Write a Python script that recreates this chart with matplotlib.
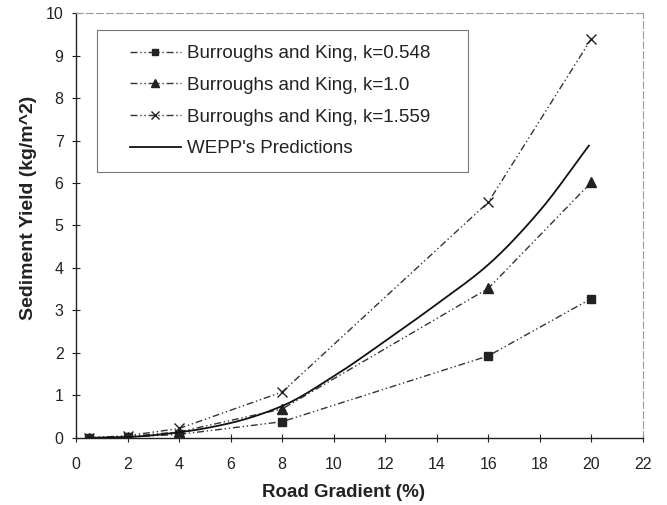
import matplotlib
matplotlib.use("Agg")
import matplotlib.pyplot as plt
from matplotlib.patches import Rectangle
import numpy as np

plt.rcParams['font.family'] = ['Liberation Sans', 'DejaVu Sans']

# Data
gradient = [0.5, 2, 4, 8, 16, 20]
bk_0548 = [0.0, 0.02, 0.08, 0.38, 1.93, 3.28]
bk_10 = [0.0, 0.03, 0.14, 0.68, 3.52, 6.02]
bk_1559 = [0.0, 0.05, 0.22, 1.08, 5.55, 9.40]

wepp_x = [0.5, 2, 4, 6, 8, 10, 12, 14, 16, 18, 19.9]
wepp_y = [0.0, 0.02, 0.13, 0.35, 0.75, 1.45, 2.28, 3.15, 4.08, 5.35, 6.88]

labels = ["Burroughs and King, k=0.548", "Burroughs and King, k=1.0",
          "Burroughs and King, k=1.559", "WEPP's Predictions"]
xticks = list(range(0, 23, 2))
yticks = list(range(0, 11))

fig = plt.figure(figsize=(6.67, 5.05), dpi=100)
ax = fig.add_axes([0.114, 0.133, 0.850, 0.841])

ls = (0, (5, 2, 1, 2, 1, 2))
col = '#333333'
ax.plot(gradient, bk_0548, linestyle=ls, color=col, lw=1.0, marker='s', ms=6,
        mfc='#222222', mec='#222222', label=labels[0])
ax.plot(gradient, bk_10, linestyle=ls, color=col, lw=1.0, marker='^', ms=6.5,
        mfc='#222222', mec='#222222', label=labels[1])
ax.plot(gradient, bk_1559, linestyle=ls, color=col, lw=1.0, marker='x', ms=7,
        mew=1.0, mec='#222222', label=labels[2])

xs = np.array(wepp_x); ys = np.array(wepp_y)
def pchip(x, y, xn):
    h = np.diff(x); d = np.diff(y) / h
    m = np.zeros_like(y)
    for k in range(1, len(x) - 1):
        if d[k-1] * d[k] > 0:
            w1 = 2*h[k] + h[k-1]; w2 = h[k] + 2*h[k-1]
            m[k] = (w1 + w2) / (w1/d[k-1] + w2/d[k])
    m[0] = d[0]; m[-1] = d[-1]
    out = np.empty_like(xn)
    for i, xv in enumerate(xn):
        k = min(np.searchsorted(x, xv) - 1, len(x) - 2); k = max(k, 0)
        t = (xv - x[k]) / h[k]
        h00 = 2*t**3 - 3*t**2 + 1; h10 = t**3 - 2*t**2 + t
        h01 = -2*t**3 + 3*t**2; h11 = t**3 - t**2
        out[i] = h00*y[k] + h10*h[k]*m[k] + h01*y[k+1] + h11*h[k]*m[k+1]
    return out
xn = np.linspace(xs[0], xs[-1], 300)
ax.plot(xn, pchip(xs, ys, xn), color='#111111', lw=1.3, label=labels[3])

ax.set_xlim(0, 22)
ax.set_ylim(0, 10)
ax.set_xticks(xticks)
ax.set_yticks(yticks)
ax.tick_params(direction='inout', length=6, width=0.8, labelsize=11.5,
               colors='#222222')
ax.tick_params(axis='x', pad=11)
ax.tick_params(axis='y', pad=6)
for s in ['left', 'bottom']:
    ax.spines[s].set_color('#222222')
    ax.spines[s].set_linewidth(1.0)
for s in ['top', 'right']:
    ax.spines[s].set_color('#9a9a9a')
    ax.spines[s].set_linewidth(0.8)
    ax.spines[s].set_linestyle((0, (6, 3)))

ax.set_xlabel("Road Gradient (%)", fontsize=13.5, fontweight='bold',
              color='#222222')
ax.set_ylabel("Sediment Yield (kg/m^2)", fontsize=14, fontweight='bold',
              color='#222222')
ax.xaxis.set_label_coords(0.471, -0.108)
ax.yaxis.set_label_coords(-0.068, 0.541)

# legend frame
ax.add_patch(Rectangle((0.037, 0.626), 0.654, 0.334, transform=ax.transAxes,
                       fill=True, facecolor='white', edgecolor='#777777',
                       lw=0.8, zorder=3))
leg = ax.legend(loc='upper left', bbox_to_anchor=(0.095, 0.925),
                frameon=False, fontsize=13.5, handlelength=2.7,
                handletextpad=0.35, labelspacing=0.78, borderpad=0,
                borderaxespad=0, markerscale=0.8)
leg.set_zorder(4)
for t in leg.get_texts():
    t.set_color('#222222')

fig.savefig("out.png", dpi=100)
